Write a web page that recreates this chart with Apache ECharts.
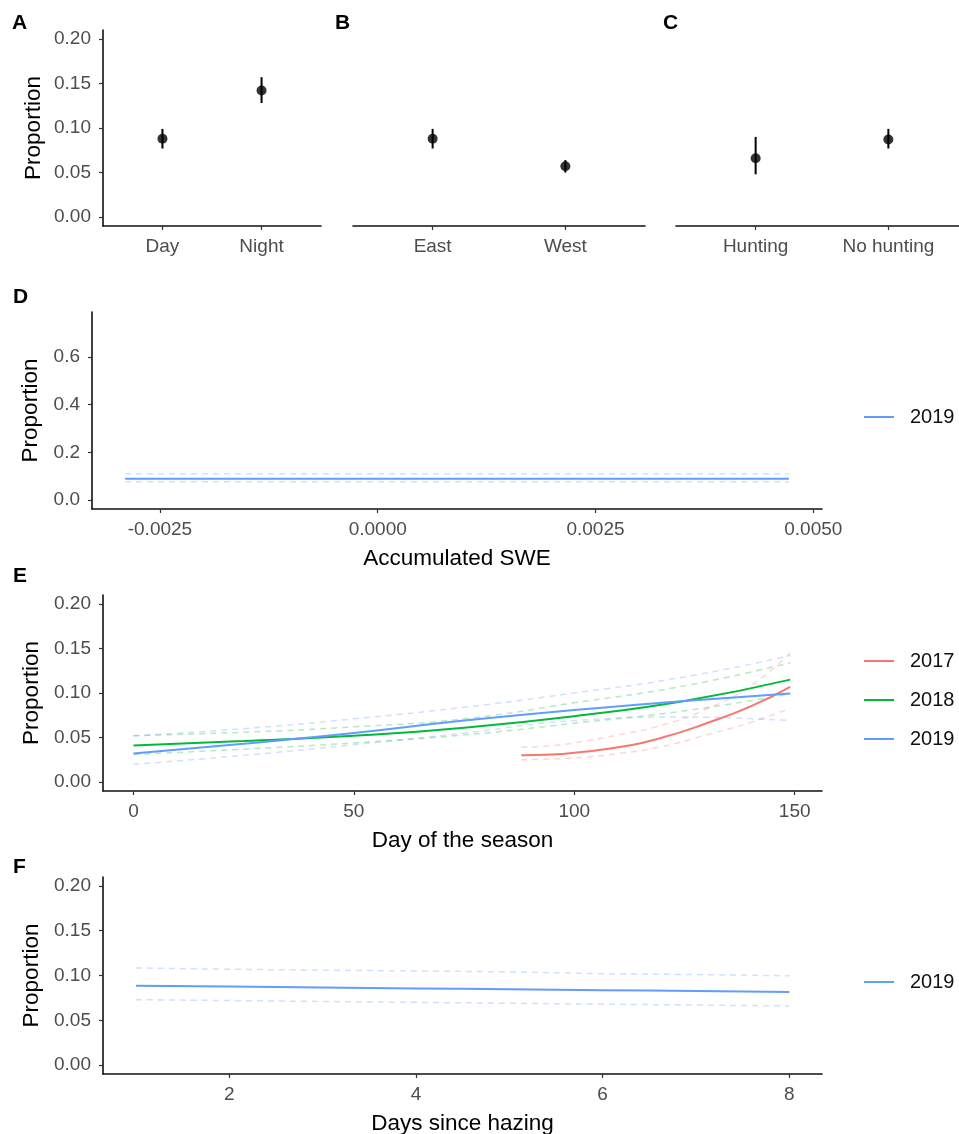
<!DOCTYPE html>
<html>
<head>
<meta charset="utf-8">
<script src="https://cdn.jsdelivr.net/npm/echarts@6.0.0/dist/echarts.min.js"></script>
<style>
  html, body { margin: 0; background: #fff; }
  #chart { width: 959px; height: 1134px; }
</style>
</head>
<body>
<div id="chart"></div>
<script>
// panels A-C: point estimates with intervals
const timeCats = ["Day", "Night"];
const timeMean = [0.088, 0.142];
const timeLo = [0.077, 0.128];
const timeHi = [0.099, 0.157];

const sideCats = ["East", "West"];
const sideMean = [0.088, 0.057];
const sideLo = [0.077, 0.050];
const sideHi = [0.099, 0.064];

const huntCats = ["Hunting", "No hunting"];
const huntMean = [0.066, 0.087];
const huntLo = [0.048, 0.077];
const huntHi = [0.090, 0.099];

// panel D: accumulated SWE
const sweX = [-0.0029, 0.00472];
const swe2019 = [0.089, 0.089];
const swe2019Hi = [0.110, 0.110];
const swe2019Lo = [0.077, 0.077];

// panel E: day of the season
const dayX = [0, 25, 50, 75, 100, 125, 149];
const day2019 = [0.032, 0.043, 0.055, 0.069, 0.081, 0.091, 0.0995];
const day2019Hi = [0.052, 0.060, 0.071, 0.084, 0.100, 0.118, 0.142];
const day2019Lo = [0.020, 0.030, 0.042, 0.055, 0.069, 0.073, 0.069];
const day2018 = [0.041, 0.046, 0.052, 0.061, 0.074, 0.091, 0.115];
const day2018Hi = [0.052, 0.056, 0.062, 0.071, 0.089, 0.108, 0.134];
const day2018Lo = [0.031, 0.037, 0.044, 0.053, 0.066, 0.080, 0.099];
const day17X = [88, 95, 100, 110, 120, 130, 140, 149];
const day2017 = [0.030, 0.031, 0.033, 0.039, 0.050, 0.066, 0.085, 0.107];
const day2017Hi = [0.039, 0.041, 0.044, 0.053, 0.064, 0.082, 0.108, 0.145];
const day2017Lo = [0.025, 0.026, 0.027, 0.032, 0.040, 0.053, 0.067, 0.083];

// panel F: days since hazing
const hazeX = [1, 2, 3, 4, 5, 6, 7, 8];
const haze2019 = [0.0886, 0.0876, 0.0866, 0.0856, 0.0846, 0.0836, 0.0826, 0.0815];
const haze2019Hi = [0.1085, 0.107, 0.106, 0.105, 0.104, 0.102, 0.101, 0.0997];
const haze2019Lo = [0.073, 0.072, 0.071, 0.070, 0.069, 0.068, 0.067, 0.066];

const propTicks = [0, 0.05, 0.1, 0.15, 0.2];
const sweYTicks = [0, 0.2, 0.4, 0.6];
const sweXTicks = [-0.0025, 0, 0.0025, 0.005];
const dayTicks = [0, 50, 100, 150];
const hazeTicks = [2, 4, 6, 8];

const RED = "#F8766D", GREEN = "#00BA38", BLUE = "#619CFF";
const FONT = "'Liberation Sans', Arial, sans-serif";

const tickLabel = { color: "#4D4D4D", fontSize: 19, fontFamily: FONT };

function valueAxis(grid, min, max, ticks, fmt, extra) {
  return Object.assign({
    type: "value", gridIndex: grid, min: min, max: max,
    axisLine: { show: true, onZero: false, lineStyle: { color: "#111", width: 1.6 } },
    axisTick: { show: true, length: 4, customValues: ticks, lineStyle: { color: "#333", width: 1.2 } },
    axisLabel: Object.assign({ customValues: ticks, formatter: fmt, margin: 12 }, tickLabel),
    splitLine: { show: false },
    nameTextStyle: { color: "#000", fontSize: 22.5, fontFamily: FONT },
    nameLocation: "middle"
  }, extra || {});
}

function catAxis(grid, cats) {
  return valueAxis(grid, 0.4, 2.6, [1, 2], (v) => cats[Math.round(v) - 1]);
}

function propAxis(grid, shown, gap) {
  const ax = valueAxis(grid, -0.01, 0.21, propTicks, (v) => v.toFixed(2),
    { name: "Proportion", nameGap: gap || 58 });
  if (!shown) { ax.show = false; }
  return ax;
}

function pointSeries(grid, mean, lo, hi) {
  return [
    {
      type: "custom", xAxisIndex: grid, yAxisIndex: grid,
      data: mean.map((m, i) => [i + 1, lo[i], hi[i]]),
      renderItem: (params, api) => {
        const a = api.coord([api.value(0), api.value(1)]);
        const b = api.coord([api.value(0), api.value(2)]);
        return {
          type: "line",
          shape: { x1: a[0], y1: a[1], x2: b[0], y2: b[1] },
          style: { stroke: "#000", lineWidth: 2 }
        };
      }
    },
    {
      type: "scatter", xAxisIndex: grid, yAxisIndex: grid, z: 3,
      symbolSize: 10, itemStyle: { color: "#000" },
      data: mean.map((m, i) => [i + 1, m])
    }
  ];
}

function curve(grid, name, xs, ys, color, dashed) {
  return {
    type: "line", name: name, xAxisIndex: grid, yAxisIndex: grid,
    smooth: true, symbol: "none", silent: true,
    data: xs.map((x, i) => [x, ys[i]]),
    lineStyle: dashed
      ? { color: color, width: 1.5, type: [6, 5], opacity: 0.3 }
      : { color: color, width: 2 },
    itemStyle: { color: color },
    z: dashed ? 1 : 2
  };
}

function band(grid, name, xs, mid, hi, lo, color) {
  return [
    curve(grid, name + " hi", xs, hi, color, true),
    curve(grid, name + " lo", xs, lo, color, true),
    curve(grid, name, xs, mid, color, false)
  ];
}

function legendAt(top, names) {
  return {
    data: names, left: 864, top: top, orient: "vertical",
    icon: "rect", itemWidth: 30, itemHeight: 2, itemGap: 19, padding: 0,
    selectedMode: false,
    textStyle: { color: "#111", fontSize: 20, lineHeight: 20, fontFamily: FONT, padding: [0, 0, 0, 11] }
  };
}

function panelTitle(text, left, top) {
  return {
    text: text, left: left, top: top, padding: 0,
    textStyle: { fontSize: 21, fontWeight: "bold", color: "#000", fontFamily: FONT }
  };
}

const grids = [
  { left: 103, top: 30, width: 218, height: 196 },
  { left: 353, top: 30, width: 292, height: 196 },
  { left: 676, top: 30, width: 292, height: 196 },
  { left: 92, top: 312, width: 730, height: 197 },
  { left: 103, top: 595, width: 719, height: 196 },
  { left: 103, top: 877, width: 719, height: 197 }
].map((g) => Object.assign({ outerBoundsMode: "none", containLabel: false }, g));

const xAxes = [
  catAxis(0, timeCats),
  catAxis(1, sideCats),
  catAxis(2, huntCats),
  valueAxis(3, -0.00328, 0.0051, sweXTicks, (v) => v.toFixed(4),
    { name: "Accumulated SWE", nameGap: 38 }),
  valueAxis(4, -6.9, 156.2, dayTicks, (v) => String(v),
    { name: "Day of the season", nameGap: 38 }),
  valueAxis(5, 0.647, 8.35, hazeTicks, (v) => String(v),
    { name: "Days since hazing", nameGap: 38 })
];
xAxes.forEach((ax) => { ax.axisLabel.margin = 11; });

const yAxes = [
  propAxis(0, true),
  propAxis(1, false),
  propAxis(2, false),
  valueAxis(3, -0.0375, 0.7875, sweYTicks, (v) => v.toFixed(1),
    { name: "Proportion", nameGap: 48 }),
  propAxis(4, true),
  propAxis(5, true)
];

const series = [].concat(
  pointSeries(0, timeMean, timeLo, timeHi),
  pointSeries(1, sideMean, sideLo, sideHi),
  pointSeries(2, huntMean, huntLo, huntHi),
  band(3, "2019", sweX, swe2019, swe2019Hi, swe2019Lo, BLUE),
  band(4, "2017", day17X, day2017, day2017Hi, day2017Lo, RED),
  band(4, "2018", dayX, day2018, day2018Hi, day2018Lo, GREEN),
  band(4, "2019", dayX, day2019, day2019Hi, day2019Lo, BLUE),
  band(5, "2019", hazeX, haze2019, haze2019Hi, haze2019Lo, BLUE)
);

const chart = echarts.init(document.getElementById("chart"), null, { renderer: "canvas" });
chart.setOption({
  animation: false,
  backgroundColor: "#fff",
  textStyle: { fontFamily: FONT },
  title: [
    panelTitle("A", 12, 13),
    panelTitle("B", 335, 13),
    panelTitle("C", 663, 13),
    panelTitle("D", 13, 287),
    panelTitle("E", 13, 566),
    panelTitle("F", 13, 857)
  ],
  legend: [
    legendAt(407, ["2019"]),
    legendAt(651, ["2017", "2018", "2019"]),
    legendAt(972, ["2019"])
  ],
  grid: grids,
  xAxis: xAxes,
  yAxis: yAxes,
  series: series
});
</script>
</body>
</html>
